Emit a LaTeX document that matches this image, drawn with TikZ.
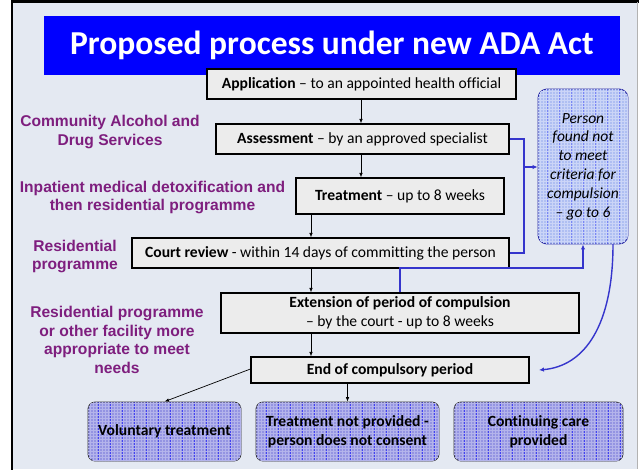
\documentclass[tikz,border=0pt]{standalone}
\usepackage{fontspec}
\setmainfont{Carlito}[Ligatures=NoCommon]
\newfontfamily\arialfont{Liberation Sans}
\usetikzlibrary{patterns,arrows.meta}
\definecolor{bgc}{HTML}{E4E9F2}
\definecolor{purp}{HTML}{7E1E7E}
\definecolor{lineblue}{HTML}{3535CC}
\definecolor{titleblue}{HTML}{0000FF}
\definecolor{boxgray}{HTML}{ECECEC}
\definecolor{perslight}{HTML}{AFBFF2}
\definecolor{outdark}{HTML}{9494E2}
\tikzset{
  graybox/.style={draw=black, line width=1.1pt, fill=boxgray, inner sep=1pt,
    font=\fontsize{15.6}{18.5}\selectfont, align=center},
  outbox/.style={draw=black!80, line width=0.8pt, rounded corners=7pt, fill=outdark,
    postaction={pattern=grid, pattern color=white!30!outdark},
    path picture={\draw[blue!55!outdark, line width=0.5pt, step=12pt]
      (path picture bounding box.south west) grid (path picture bounding box.north east);},
    font=\bfseries\fontsize{15.6}{18.5}\selectfont, align=center, inner sep=1pt},
  persbox/.style={draw=lineblue!80!black, line width=0.9pt, rounded corners=9pt, fill=perslight,
    postaction={pattern=grid, pattern color=white!35!perslight},
    path picture={\draw[blue!30!perslight, line width=0.4pt, step=12pt]
      (path picture bounding box.south west) grid (path picture bounding box.north east);},
    font=\itshape\fontsize{15.5}{18.8}\selectfont, align=center, inner sep=1pt},
  lab/.style={text=purp, font=\arialfont\bfseries\fontsize{15.6}{18.8}\selectfont, align=center},
  blk/.style={draw=black, line width=0.7pt, -{Latex[length=4.5pt,width=3.5pt]}},
  bl/.style={draw=lineblue, line width=1.4pt},
  blarr/.style={bl, -{Latex[length=5pt,width=4.5pt]}}
}
\begin{document}
\begin{tikzpicture}[x=1pt,y=-1pt]
\useasboundingbox (0,0) rectangle (639,469);
\fill[white] (0,0) rectangle (639,469);
\fill[bgc] (12,1.5) rectangle (637,469);
\draw[black, line width=2.2pt] (12,475) -- (12,1.5) -- (639,1.5);
\draw[gray!60, line width=0.8pt] (637.5,1.5) -- (637.5,469);
% title
\node[fill=titleblue, minimum width=576pt, minimum height=59pt, inner sep=0pt,
  text=white, font=\bfseries\fontsize{33.5}{38}\selectfont] (title) at (332,45.5) {Proposed process under new ADA Act};
% main boxes
\node[graybox, minimum width=309pt, minimum height=30pt] (app) at (361.5,84) {\textbf{Application} -- to an appointed health official};
\node[graybox, minimum width=293pt, minimum height=30pt] (ass) at (362.5,139) {\textbf{Assessment} -- by an approved specialist};
\node[graybox, minimum width=208pt, minimum height=36pt] (trt) at (400,196) {\textbf{Treatment} -- up to 8 weeks};
\node[graybox, minimum width=377pt, minimum height=30pt] (court) at (320.5,253) {\textbf{Court review} - within 14 days of committing the person};
\node[graybox, minimum width=358pt, minimum height=40pt] (ext) at (400,313) {\textbf{Extension of period of compulsion}\\-- by the court - up to 8 weeks};
\node[graybox, minimum width=278pt, minimum height=26pt] (end) at (390,370) {\textbf{End of compulsory period}};
\node[persbox, minimum width=90pt, minimum height=155pt] (pers) at (583,166.5) {Person\\found not\\to meet\\criteria for\\compulsion\\-- go to 6};
% outcome boxes
\node[outbox, minimum width=153pt, minimum height=59pt] (vol) at (164.5,431.5) {Voluntary treatment};
\node[outbox, minimum width=183pt, minimum height=59pt] (np) at (347.5,431.5) {Treatment not provided -\\person does not consent};
\node[outbox, minimum width=169pt, minimum height=59pt] (cc) at (538.5,431.5) {Continuing care\\provided};
% labels
\node[lab] (l1) at (110,132) {Community Alcohol and\\Drug Services};
\node[lab] (l2) at (152.5,197.5) {Inpatient medical detoxification and\\then residential programme};
\node[lab] (l3) at (75,256.5) {Residential\\programme};
\node[lab] (l4) at (117,340) {Residential programme\\or other facility more\\appropriate to meet\\needs};
% black connectors
\coordinate (ax) at (361,0);
\coordinate (cx) at (311,0);
\draw[blk] (app.south -| ax) -- (ass.north -| ax);
\draw[blk] (ass.south -| ax) -- (trt.north -| ax);
\draw[blk] (trt.south -| cx) -- (court.north -| cx);
\draw[blk] (court.south -| cx) -- (ext.north -| cx);
\draw[blk] (ext.south -| cx) -- (end.north -| cx);
\draw[blk] ([yshift=1pt]end.west) -- (vol.north);
\draw[blk] (end.south -| np.north) -- (np.north);
% blue connectors
\coordinate (j) at (524,167);
\draw[bl] (ass.east) -| (j) |- (court.east);
\draw[blarr] (j) -- (pers.west |- j);
\coordinate (k) at (583,268);
\draw[blarr] (ext.north) |- (k) -- (pers.south);
\coordinate (ps) at (613,244);
\coordinate (ee) at (539,370);
\draw[blarr] (ps) .. controls (613,325) and (585,366) .. (ee);
\end{tikzpicture}
\end{document}
